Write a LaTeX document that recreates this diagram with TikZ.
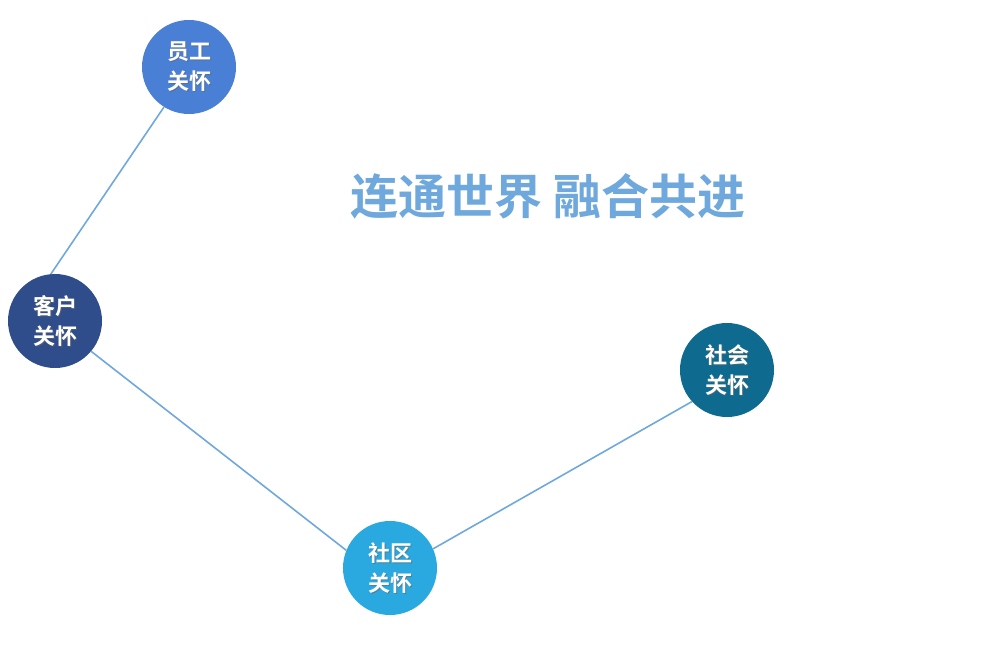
\documentclass[tikz,border=0pt]{standalone}
\usepackage{fontspec}
\newfontfamily\cjk{Noto Sans CJK SC Bold}
\definecolor{lineblue}{HTML}{6FA8DC}
\definecolor{cA}{HTML}{4A7FD6}
\definecolor{cB}{HTML}{2E4D8A}
\definecolor{cC}{HTML}{0E6B8F}
\definecolor{cD}{HTML}{29A9E0}
\begin{document}
\begin{tikzpicture}[x=1pt,y=-1pt,
  bub/.style={circle,minimum size=94pt,inner sep=0pt,draw=none},
  lbl/.style={text=white,font=\cjk\fontsize{22}{30}\selectfont,align=center},
  shd/.style={text=black!60,opacity=0.6,font=\cjk\fontsize{22}{30}\selectfont,align=center},
  conn/.style={draw=lineblue,line width=1.6pt}]
\useasboundingbox (0,0) rectangle (990,650);
\node[bub,fill=cA] (yg) at (189,67) {};
\node[bub,fill=cB] (kh) at (55,321) {};
\node[bub,fill=cC] (sh) at (727,370) {};
\node[bub,fill=cD] (sq) at (390,568) {};
\draw[conn] (yg.-122) -- (kh.95);
\draw[conn] (kh.-40) -- (sq.158);
\draw[conn] (sq.24) -- (sh.-138);
\foreach \n/\t in {yg/{员工\\关怀},kh/{客户\\关怀},sh/{社会\\关怀},sq/{社区\\关怀}}{
  \node[shd] at ([shift={(1,1)}]\n.center) {\t};
  \node[lbl] (\n t) at (\n.center) {\t};
}
\node[text=lineblue,font=\cjk\fontsize{48}{52}\selectfont] (title) at (548,196) {连通世界 融合共进};
\end{tikzpicture}
\end{document}
